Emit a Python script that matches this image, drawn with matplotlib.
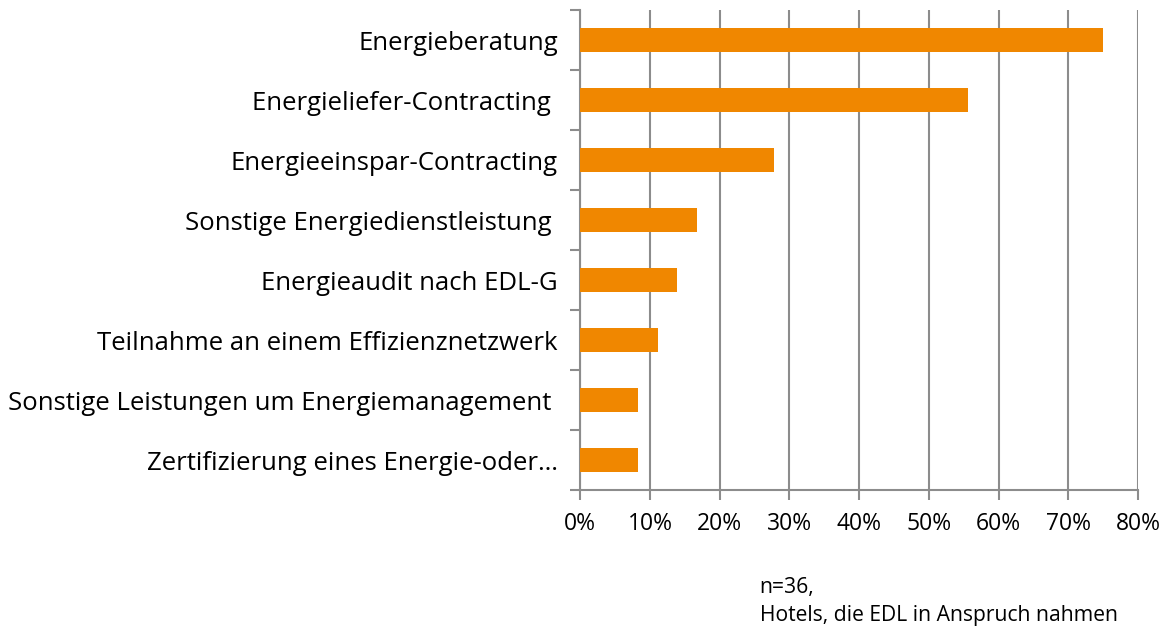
import numpy as np
import matplotlib
matplotlib.use("Agg")
from matplotlib import pyplot as plt
from matplotlib.ticker import MultipleLocator, PercentFormatter

# data, top to bottom
categories = [
    "Energieberatung",
    "Energieliefer-Contracting ",
    "Energieeinspar-Contracting",
    "Sonstige Energiedienstleistung ",
    "Energieaudit nach EDL-G",
    "Teilnahme an einem Effizienznetzwerk",
    "Sonstige Leistungen um Energiemanagement ",
    "Zertifizierung eines Energie-oder\u2026",
]
shares = [75.0, 55.6, 27.8, 16.7, 13.9, 11.1, 8.3, 8.3]
note_lines = ["n=36,", "Hotels, die EDL in Anspruch nahmen"]

plt.rcParams['font.family'] = ['Open Sans', 'DejaVu Sans']

fig = plt.figure(figsize=(11.65, 6.26), dpi=100)
ax = fig.add_axes([0.498, 0.217, 0.479, 0.767])

grey = '#8c8c8c'
y = np.arange(len(categories))
ax.barh(y, shares, height=0.4, color='#f08700', zorder=3)

ax.set_xlim(0, 80)
ax.set_ylim(len(categories) - 0.5, -0.5)
ax.xaxis.set_major_locator(MultipleLocator(10))
ax.xaxis.set_major_formatter(PercentFormatter(decimals=0))
ax.grid(axis='x', color=grey, linewidth=1.5, zorder=0)

ax.set_yticks(y)
ax.set_yticklabels(categories)
ax.set_yticks(np.arange(len(categories) + 1) - 0.5, minor=True)
ax.tick_params(axis='y', which='major', length=0, pad=16, labelsize=18.5)
ax.tick_params(axis='y', which='minor', length=7, width=1.5, color=grey, direction='out')
ax.tick_params(axis='x', length=7, width=1.5, color=grey, labelsize=16.5, pad=9)

for side in ['top', 'right']:
    ax.spines[side].set_visible(False)
for side in ['left', 'bottom']:
    ax.spines[side].set_color(grey)
    ax.spines[side].set_linewidth(1.5)

fig.text(0.652, 0.0, "\n".join(note_lines), fontsize=15.2, ha='left', va='bottom',
         linespacing=1.45)

fig.savefig("out.png", dpi=100)
